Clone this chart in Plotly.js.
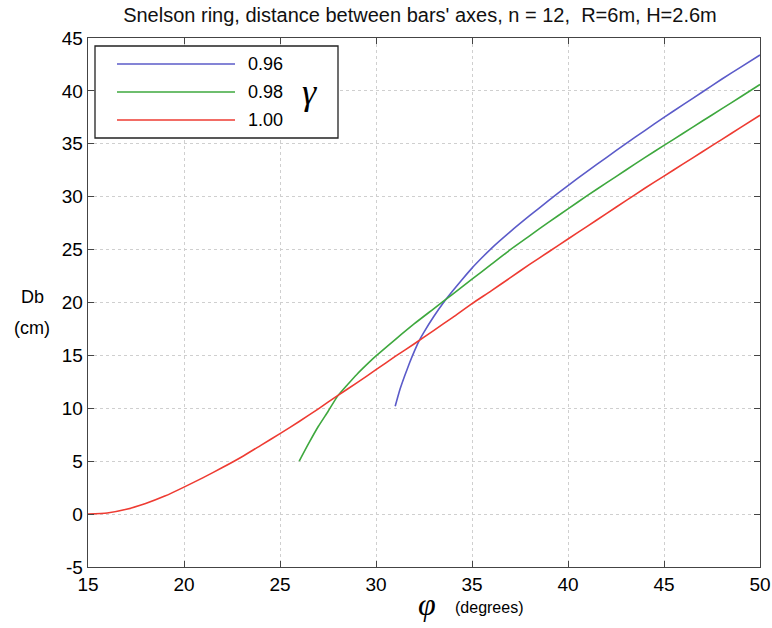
<!DOCTYPE html>
<html>
<head>
<meta charset="utf-8">
<script src="https://cdn.plot.ly/plotly-3.0.1.min.js"></script>
<style>html,body{margin:0;padding:0;background:#fff;}#chart{width:772px;height:628px;}</style>
</head>
<body>
<div id="chart"></div>
<script>
// gamma = 0.96
const phi096 = [31.0, 31.25, 31.5, 31.75, 32.0, 32.25, 32.5, 33.0, 33.5, 34.0, 34.5, 35.0, 35.5, 36, 37, 38, 39, 40, 41, 42, 43, 44, 45, 46, 47, 48, 49, 50];
const db096  = [10.2, 11.8, 13.1, 14.3, 15.4, 16.4, 17.2, 18.65, 19.95, 21.1, 22.2, 23.25, 24.2, 25.1, 26.7, 28.2, 29.65, 31.05, 32.4, 33.7, 35.0, 36.25, 37.5, 38.7, 39.9, 41.1, 42.25, 43.4];
// gamma = 0.98
const phi098 = [26.0, 26.5, 27.0, 27.5, 28.0, 28.5, 29.0, 29.5, 30, 31, 32, 33, 34, 35, 36, 37, 38, 39, 40, 41, 42, 43, 44, 45, 46, 47, 48, 49, 50];
const db098  = [5.0, 6.7, 8.3, 9.7, 11.15, 12.2, 13.2, 14.1, 14.95, 16.5, 18.0, 19.4, 20.8, 22.2, 23.6, 25.0, 26.3, 27.6, 28.85, 30.1, 31.3, 32.5, 33.7, 34.85, 36.0, 37.15, 38.3, 39.45, 40.6];
// gamma = 1.00
const phi100 = [15, 16, 17, 18, 19, 20, 21, 22, 23, 24, 25, 26, 27, 28, 29, 30, 31, 32, 33, 34, 35, 36, 37, 38, 39, 40, 41, 42, 43, 44, 45, 46, 47, 48, 49, 50];
const db100  = [0, 0.1, 0.45, 1.0, 1.7, 2.55, 3.45, 4.4, 5.4, 6.5, 7.6, 8.75, 9.95, 11.2, 12.4, 13.65, 14.9, 16.1, 17.35, 18.6, 19.9, 21.1, 22.35, 23.6, 24.8, 26.0, 27.2, 28.4, 29.6, 30.8, 31.95, 33.1, 34.25, 35.4, 36.55, 37.7];

const seriesNames = ['0.96', '0.98', '1.00'];
const xTicks = [15, 20, 25, 30, 35, 40, 45, 50];
const yTicks = [-5, 0, 5, 10, 15, 20, 25, 30, 35, 40, 45];

const colors = ['#5b5bc9', '#3ea83e', '#ee3b32'];
const F = 'Liberation Sans, Arial, sans-serif';
const FN = 'Liberation Sans Narrow, Arial Narrow, Liberation Sans, sans-serif';

const traces = [
  {x: phi096, y: db096, name: seriesNames[0]},
  {x: phi098, y: db098, name: seriesNames[1]},
  {x: phi100, y: db100, name: seriesNames[2]}
].map((t, i) => Object.assign(t, {
  type: 'scatter', mode: 'lines', line: {color: colors[i], width: 1.6, shape: 'spline', smoothing: 0.5},
  showlegend: false, hoverinfo: 'skip'
}));

// pixel -> paper helpers (plot area 88..760 x 38..567)
const L = 88, R = 12, T = 38, B = 61, W = 772, H = 628;
const pw = W - L - R, ph = H - T - B;
const px = v => (v - L) / pw;
const py = v => (H - B - v) / ph;

const shapes = [
  {type: 'rect', xref: 'paper', yref: 'paper', x0: px(95), x1: px(338), y0: py(138), y1: py(46),
   line: {color: '#222', width: 1.3}, fillcolor: '#fff', layer: 'above'}
];
const annotations = [];
const rowY = [64, 92, 120];
seriesNames.forEach((n, i) => {
  shapes.push({type: 'line', xref: 'paper', yref: 'paper', x0: px(117), x1: px(235), y0: py(rowY[i]), y1: py(rowY[i]),
    line: {color: colors[i], width: 1.6}, layer: 'above'});
  annotations.push({xref: 'paper', yref: 'paper', x: px(246), y: py(rowY[i]), xanchor: 'left', yanchor: 'middle',
    text: n, showarrow: false, font: {family: F, size: 18, color: '#000'}});
});
annotations.push({xref: 'paper', yref: 'paper', x: px(309), y: py(92), xanchor: 'center', yanchor: 'middle',
  text: '<i>γ</i>', showarrow: false, font: {family: 'Liberation Serif, serif', size: 36, color: '#000'}});
annotations.push({xref: 'paper', yref: 'paper', x: px(32), y: py(297), xanchor: 'center', yanchor: 'middle',
  text: 'Db', showarrow: false, font: {family: F, size: 18, color: '#000'}});
annotations.push({xref: 'paper', yref: 'paper', x: px(32), y: py(328), xanchor: 'center', yanchor: 'middle',
  text: '(cm)', showarrow: false, font: {family: F, size: 18, color: '#000'}});
annotations.push({xref: 'paper', yref: 'paper', x: px(427), y: py(604), xanchor: 'center', yanchor: 'middle',
  text: '<i>φ</i>', showarrow: false, font: {family: 'Liberation Serif, serif', size: 32, color: '#000'}});
annotations.push({xref: 'paper', yref: 'paper', x: px(453), y: py(607), xanchor: 'left', yanchor: 'middle',
  text: '(degrees)', showarrow: false, font: {family: F, size: 16, color: '#000'}});

const axisCommon = {
  showline: true, linecolor: '#444', linewidth: 1.3, mirror: 'ticks',
  ticks: 'inside', ticklen: 6, tickcolor: '#444',
  showgrid: true, gridcolor: '#cfcfcf', griddash: 'dot', gridwidth: 1,
  zeroline: false, tickfont: {family: F, size: 19, color: '#000'}
};

const layout = {
  width: W, height: H,
  margin: {l: L, r: R, t: T, b: B, pad: 0},
  paper_bgcolor: '#fff', plot_bgcolor: '#fff',
  title: {text: "Snelson ring, distance between bars' axes, n = 12,  R=6m, H=2.6m",
    font: {family: FN, size: 20, color: '#111'}, x: 0.544, xanchor: 'center', y: 0.976, yanchor: 'middle', yref: 'container'},
  xaxis: Object.assign({}, axisCommon, {range: [15, 50], tickvals: xTicks, ticktext: xTicks.map(String)}),
  yaxis: Object.assign({}, axisCommon, {range: [-5, 45], tickvals: yTicks, ticktext: yTicks.map(String)}),
  shapes: shapes, annotations: annotations, showlegend: false
};

Plotly.newPlot('chart', traces, layout, {staticPlot: true, displayModeBar: false});
</script>
</body>
</html>
